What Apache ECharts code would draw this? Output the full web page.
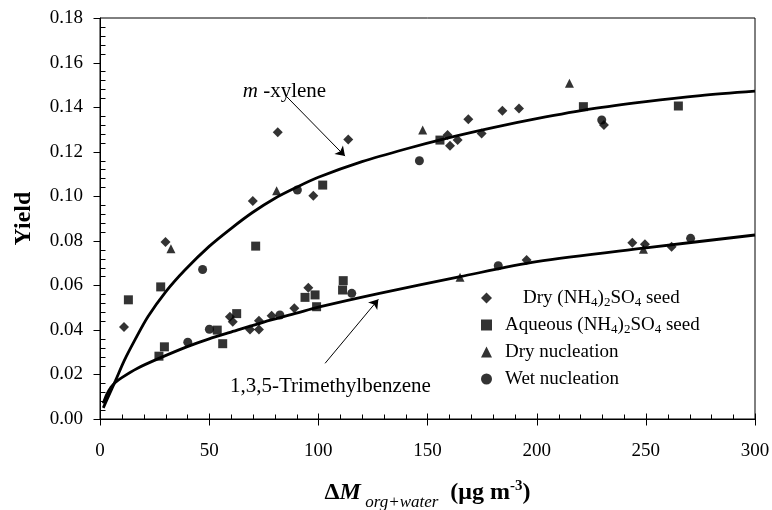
<!DOCTYPE html>
<html>
<head>
<meta charset="utf-8">
<script src="https://cdn.jsdelivr.net/npm/echarts@6/dist/echarts.min.js"></script>
<style>
  html, body { margin: 0; padding: 0; background: #fff; }
  #chart { width: 772px; height: 510px; }
</style>
</head>
<body>
<div id="chart"></div>
<script>
// scatter data: [ΔM, yield]
const drySeed = [
  [11, 0.0413], [30, 0.0794], [70, 0.0978], [81.4, 0.1287], [97.7, 0.1002],
  [113.7, 0.1255], [159.2, 0.1275], [160.3, 0.1227], [163.8, 0.1252], [168.7, 0.1345],
  [174.8, 0.1282], [184.3, 0.1384], [191.9, 0.1394], [230.8, 0.132],
  [59.5, 0.0459], [60.8, 0.0437], [68.7, 0.0402], [72.8, 0.0441], [72.8, 0.0402],
  [78.6, 0.0464], [89.0, 0.0497], [95.4, 0.0589], [195.4, 0.0714], [243.8, 0.0791],
  [249.6, 0.0784], [261.8, 0.0773]
]
const aqueousSeed = [
  [13, 0.0535], [27.8, 0.0593], [71.3, 0.0776], [102, 0.105], [155.7, 0.1252],
  [221.4, 0.1402], [264.9, 0.1405],
  [27.0, 0.0282], [29.5, 0.0324], [53.7, 0.0399], [56.2, 0.0338], [62.6, 0.0473],
  [93.9, 0.0546], [98.5, 0.0557], [99.2, 0.0504], [111.1, 0.0579], [111.4, 0.0621]
]
const dryNucleation = [
  [32.5, 0.0764], [80.9, 0.1025], [147.8, 0.1297], [215, 0.1507],
  [164.9, 0.0636], [248.9, 0.0762]
]
const wetNucleation = [
  [47.0, 0.0671], [90.4, 0.1028], [146.3, 0.1159], [229.8, 0.1342],
  [40.2, 0.0345], [50.1, 0.0403], [82.4, 0.0467], [115.3, 0.0564], [182.4, 0.0688], [270.5, 0.0811]
]

// fitted curves
const xyleneCurve = [
  [1.5, 0.005], [4, 0.0105], [7, 0.017], [11, 0.026], [16, 0.0355], [22, 0.046],
  [30, 0.057], [39, 0.067], [50, 0.0775], [60, 0.0855], [70, 0.0928], [80, 0.099],
  [90, 0.104], [100, 0.1085], [120, 0.1155], [140, 0.1212], [160, 0.1263], [180, 0.1308],
  [200, 0.1348], [225, 0.1392], [250, 0.1425], [275, 0.1452], [300, 0.1472]
]
const tmbCurve = [
  [1.5, 0.007], [3, 0.0108], [5, 0.0142], [7, 0.0164], [10, 0.0186], [17, 0.0227],
  [27, 0.0272], [40, 0.0325], [50, 0.036], [60, 0.039], [75, 0.0435], [90, 0.0475],
  [100, 0.0502], [128, 0.0564], [165, 0.0639], [200, 0.0706], [250, 0.0768], [300, 0.0826]
]

// tick positions
const xMajorTicks = [0, 50, 100, 150, 200, 250, 300]
const xMinorTicks = [10, 20, 30, 40, 60, 70, 80, 90, 110, 120, 130, 140, 160, 170, 180, 190,
  210, 220, 230, 240, 260, 270, 280, 290]
const yMajorTicks = [0, 0.02, 0.04, 0.06, 0.08, 0.10, 0.12, 0.14, 0.16, 0.18]
const yMinorTicks = [0.004, 0.008, 0.012, 0.016, 0.024, 0.028, 0.032, 0.036, 0.044, 0.048,
  0.052, 0.056, 0.064, 0.068, 0.072, 0.076, 0.084, 0.088, 0.092, 0.096, 0.104, 0.108,
  0.112, 0.116, 0.124, 0.128, 0.132, 0.136, 0.144, 0.148, 0.152, 0.156, 0.164, 0.168,
  0.172, 0.176]

// annotation anchors in data units
const xyleneLabelAt = [65.4, 0.1468]
const xyleneArrow = [[85.5, 0.1447], [112.2, 0.118]]
const tmbLabelAt = [59.5, 0.0145]
const tmbArrow = [[103.1, 0.025], [127.5, 0.0537]]

const legendNames = [
  'Dry (NH4)2SO4 seed',
  'Aqueous (NH4)2SO4 seed',
  'Dry nucleation',
  'Wet nucleation'
]
const legendRich = {
  'Dry (NH4)2SO4 seed': '{p0| }{n|Dry (NH}{s|4}{n|)}{s|2}{n|SO}{s|4}{n| seed}',
  'Aqueous (NH4)2SO4 seed': '{p| }{n|Aqueous (NH}{s|4}{n|)}{s|2}{n|SO}{s|4}{n| seed}',
  'Dry nucleation': '{p| }{n|Dry nucleation}',
  'Wet nucleation': '{p| }{n|Wet nucleation}'
}

const FONT = '"Liberation Serif", "Times New Roman", serif'

const chart = echarts.init(document.getElementById('chart'))

function scatter(name, data, symbol, size) {
  return {
    name,
    type: 'scatter',
    data,
    symbol,
    symbolSize: size,
    itemStyle: { color: '#000' },
    z: 4
  }
}

function curve(name, data) {
  return {
    name,
    type: 'line',
    data,
    smooth: 0.3,
    showSymbol: false,
    symbol: 'none',
    lineStyle: { color: '#000', width: 2.8 },
    z: 3
  }
}

// tick marks drawn through the axis scales: [before, after] lengths in px
function tickSeries(name, values, dir, before, after) {
  return {
    name,
    type: 'custom',
    silent: true,
    z: 5,
    data: values.map((v) => (dir === 'x' ? [v, 0] : [0, v])),
    renderItem: (params, api) => {
      const p = api.coord([api.value(0), api.value(1)])
      const x = Math.round(p[0]) + 0.5
      const y = Math.round(p[1]) + 0.5
      const shape = dir === 'x'
        ? { x1: x, y1: y - after, x2: x, y2: y + before }
        : { x1: x - before, y1: y, x2: x + after, y2: y }
      return { type: 'line', shape, style: { stroke: '#000', lineWidth: 1 } }
    }
  }
}

const option = {
  animation: false,
  grid: {
    left: 100, right: 17, top: 18, bottom: 91,
    outerBoundsMode: 'none',
    show: true, borderColor: '#000', borderWidth: 1
  },
  legend: {
    orient: 'vertical',
    left: 476, top: 282,
    itemWidth: 11, itemHeight: 11, itemGap: 5,
    selectedMode: false,
    data: legendNames,
    formatter: (name) => legendRich[name],
    textStyle: {
      fontFamily: FONT, fontSize: 19, color: '#000', lineHeight: 22,
      rich: {
        n: { fontFamily: FONT, fontSize: 19, color: '#000', lineHeight: 22 },
        s: { fontFamily: FONT, fontSize: 13, color: '#000', height: 13, verticalAlign: 'bottom', lineHeight: 22 },
        p: { width: 8, lineHeight: 22 },
        p0: { width: 26, lineHeight: 22 }
      }
    }
  },
  xAxis: {
    type: 'value', min: 0, max: 300, interval: 50,
    axisLine: { show: true, lineStyle: { color: '#000' } },
    axisTick: { show: false },
    minorTick: { show: false },
    axisLabel: { color: '#000', fontFamily: FONT, fontSize: 19, margin: 23 },
    splitLine: { show: false },
    name: '{d|Δ}{m|M}{s| org+water}{b|  (μg m}{u|-3}{b|)}',
    nameLocation: 'middle',
    nameGap: 56,
    nameTextStyle: {
      rich: {
        d: { fontFamily: FONT, fontSize: 24, fontWeight: 'bold', color: '#000', lineHeight: 36 },
        m: { fontFamily: FONT, fontSize: 24, fontWeight: 'bold', fontStyle: 'italic', color: '#000', lineHeight: 36 },
        s: { fontFamily: FONT, fontSize: 17, fontStyle: 'italic', color: '#000', height: 16, verticalAlign: 'bottom', lineHeight: 36 },
        b: { fontFamily: FONT, fontSize: 24, fontWeight: 'bold', color: '#000', lineHeight: 36 },
        u: { fontFamily: FONT, fontSize: 15, fontWeight: 'bold', color: '#000', height: 22, verticalAlign: 'top', lineHeight: 36 }
      }
    }
  },
  yAxis: {
    type: 'value', min: 0, max: 0.18, interval: 0.02,
    axisLine: { show: true, lineStyle: { color: '#000' } },
    axisTick: { show: false },
    minorTick: { show: false },
    axisLabel: {
      color: '#000', fontFamily: FONT, fontSize: 19, margin: 17,
      formatter: (v) => v.toFixed(2)
    },
    splitLine: { show: false },
    name: 'Yield',
    nameLocation: 'middle',
    nameGap: 64,
    nameTextStyle: { fontFamily: FONT, fontSize: 24, fontWeight: 'bold', color: '#000' }
  },
  series: [
    Object.assign(curve('m-xylene fit', xyleneCurve), {
      markLine: {
        silent: true,
        symbol: ['none', 'arrow'],
        symbolSize: 9,
        label: { show: false },
        lineStyle: { color: '#000', width: 1, type: 'solid' },
        data: [
          [{ coord: xyleneArrow[0] }, { coord: xyleneArrow[1] }],
          [{ coord: tmbArrow[0] }, { coord: tmbArrow[1] }]
        ]
      },
      markPoint: {
        silent: true,
        symbol: 'circle',
        symbolSize: 0,
        data: [
          {
            coord: xyleneLabelAt,
            label: {
              show: true, position: 'right', distance: 0,
              formatter: '{i|m}{n| -xylene}',
              rich: {
                i: { fontFamily: FONT, fontSize: 21, fontStyle: 'italic', color: '#000' },
                n: { fontFamily: FONT, fontSize: 21, color: '#000' }
              }
            }
          },
          {
            coord: tmbLabelAt,
            label: {
              show: true, position: 'right', distance: 0,
              formatter: '1,3,5-Trimethylbenzene',
              fontFamily: FONT, fontSize: 21, color: '#000'
            }
          }
        ]
      }
    }),
    curve('TMB fit', tmbCurve),
    scatter(legendNames[0], drySeed, 'diamond', 10),
    scatter(legendNames[1], aqueousSeed, 'rect', 9),
    scatter(legendNames[2], dryNucleation, 'triangle', 9),
    scatter(legendNames[3], wetNucleation, 'circle', 9),
    tickSeries('x major ticks', xMajorTicks, 'x', 6, 6),
    tickSeries('x minor ticks', xMinorTicks, 'x', 0, 5),
    tickSeries('y major ticks', yMajorTicks, 'y', 7, 0),
    tickSeries('y minor ticks', yMinorTicks, 'y', 0, 5)
  ]
}

chart.setOption(option)
</script>
</body>
</html>
